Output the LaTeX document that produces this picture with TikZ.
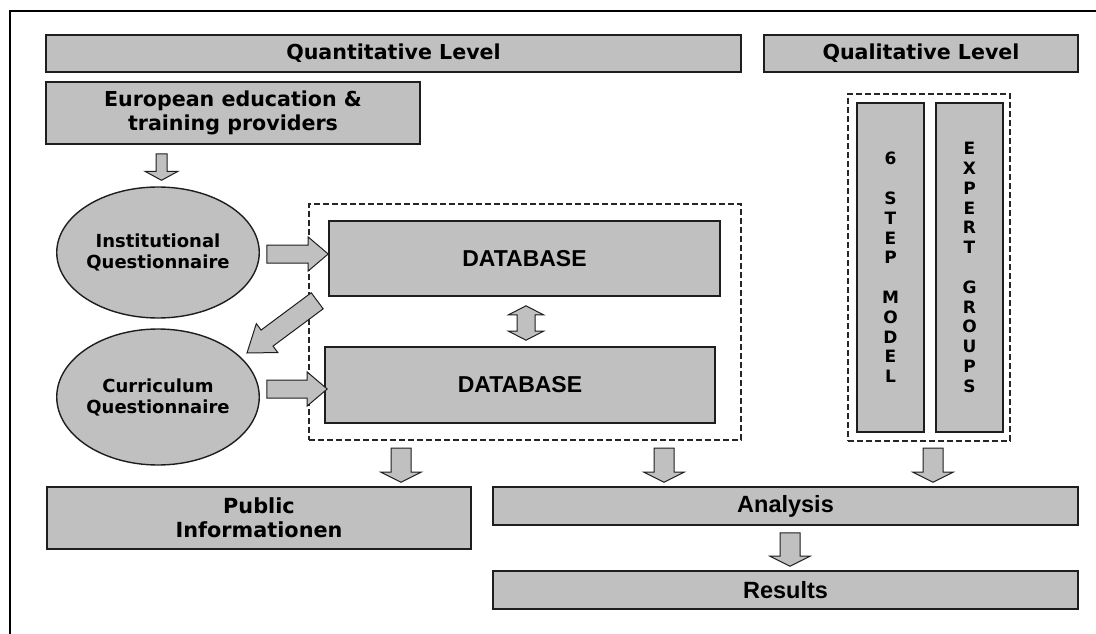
\documentclass[tikz,border=0pt]{standalone}
\usepackage{fontspec}
\setmainfont{DejaVu Sans}
\newfontfamily\arialfont{Liberation Sans}
\usetikzlibrary{calc,shapes.geometric}

\definecolor{boxgray}{HTML}{C0C0C0}
\definecolor{edgegray}{HTML}{1E1E1E}

\tikzset{
  box/.style={draw=edgegray, line width=1.6pt, fill=boxgray, inner sep=0pt,
    align=center, font=\bfseries\fontsize{20.6}{23.5}\selectfont},
  dbbox/.style={box, font=\arialfont\bfseries\fontsize{23}{27}\selectfont},
  resbox/.style={box, font=\arialfont\bfseries\fontsize{23.5}{27}\selectfont},
  oval/.style={ellipse, draw=edgegray, line width=1.4pt, fill=boxgray, inner sep=0pt,
    align=center, font=\bfseries\fontsize{18}{21}\selectfont},
  column/.style={box, font=\bfseries\fontsize{17}{19.8}\selectfont},
  group/.style={draw=black!85, line width=2pt, dash pattern=on 6pt off 3pt, inner sep=0pt},
  blockarrow/.style={draw=edgegray, line width=1pt, fill=boxgray, line join=miter},
}

% block arrow: tail, tip, half shaft width, half head width, head length
\newcommand\blockarrow[5]{%
  \coordinate (bat) at #1;
  \coordinate (bap) at #2;
  \coordinate (bah) at ($(bap)!#5!(bat)$);
  \draw[blockarrow] ($(bat)!#3!90:(bap)$) -- ($(bah)!#3!90:(bap)$)
    -- ($(bah)!#4!90:(bap)$) -- (bap) -- ($(bah)!#4!-90:(bap)$)
    -- ($(bah)!#3!-90:(bap)$) -- ($(bat)!#3!-90:(bap)$) -- cycle;
}
% block arrow with a head at both ends
\newcommand\twowayarrow[5]{%
  \coordinate (dat) at #1;
  \coordinate (dap) at #2;
  \coordinate (dah) at ($(dat)!#5!(dap)$);
  \coordinate (dak) at ($(dap)!#5!(dat)$);
  \draw[blockarrow] (dat) -- ($(dah)!#4!90:(dap)$) -- ($(dah)!#3!90:(dap)$)
    -- ($(dak)!#3!90:(dap)$) -- ($(dak)!#4!90:(dap)$) -- (dap)
    -- ($(dak)!#4!-90:(dap)$) -- ($(dak)!#3!-90:(dap)$)
    -- ($(dah)!#3!-90:(dap)$) -- ($(dah)!#4!-90:(dap)$) -- cycle;
}

\begin{document}
\begin{tikzpicture}[x=1pt, y=-1pt]
  \useasboundingbox (0,0) rectangle (1096,634);
  \clip (0,0) rectangle (1096,634);

  % outer frame (continues past the right and bottom edges)
  \draw[line width=2pt, black] (10,11) rectangle (1130,670);

  % header bars
  \node[box, minimum width=695pt, minimum height=37pt] (qnt) at (393.5,53.5) {Quantitative Level};
  \node[box, minimum width=314pt, minimum height=37pt] (qlt) at (921,53.5) {Qualitative Level};

  % quantitative branch
  \node[box, minimum width=374pt, minimum height=62pt] (eu) at (233,113)
    {European education \&\\training providers};
  \node[oval, minimum width=170pt, minimum height=131pt] (iq) at (158,252.5)
    {Institutional\\Questionnaire};
  \node[oval, minimum width=170pt, minimum height=136pt] (cq) at (158,397)
    {Curriculum\\Questionnaire};

  \node[group, minimum width=432pt, minimum height=236pt] (grp1) at (525,322) {};
  \node[dbbox, minimum width=391pt, minimum height=75pt] (db1) at (524.5,258.5) {DATABASE};
  \node[dbbox, minimum width=390pt, minimum height=76pt] (db2) at (520,385) {DATABASE};

  % qualitative branch
  \node[group, minimum width=162pt, minimum height=347pt] (grp2) at (929,267.5) {};
  \node[column, minimum width=67pt, minimum height=329pt] (step) at (890.5,267.5)
    {6\\~\\S\\T\\E\\P\\~\\M\\O\\D\\E\\L};
  \node[column, minimum width=67pt, minimum height=329pt] (expert) at (969.5,267.5)
    {E\\X\\P\\E\\R\\T\\~\\G\\R\\O\\U\\P\\S};

  % outputs
  \node[box, minimum width=424pt, minimum height=62pt, font=\bfseries\fontsize{20.8}{24}\selectfont]
    (pub) at (259,518) {Public\\Informationen};
  \node[resbox, minimum width=585pt, minimum height=38pt] (ana) at (785.5,506) {Analysis};
  \node[resbox, minimum width=585pt, minimum height=38pt] (res) at (785.5,590) {Results};

  % connectors
  \blockarrow{($(iq.north |- eu.south)+(3.5,9)$)}{($(iq.north)+(3.5,-6)$)}{5.5pt}{16.5pt}{9pt}
  \blockarrow{($(iq.east)+(7,1.5)$)}{($(db1.west |- iq.east)+(0,1.5)$)}{9pt}{17pt}{20pt}
  \blockarrow{($(cq.east)+(7,-8)$)}{($(db2.west |- cq.east)+(3,-8)$)}{9pt}{17pt}{20pt}
  \blockarrow{($(db1.south west)+(-11,4)$)}{($(cq.center)+(89,-44)$)}{10pt}{18pt}{25pt}
  \twowayarrow{($(db1.south)+(1.5,9)$)}{($(db2.north -| db1.south)+(1.5,-6)$)}{9pt}{17.5pt}{9pt}

  \coordinate (pubtail) at ($(grp1.south west)+(93,7)$);
  \coordinate (anatail) at ($(grp1.south east)+(-78,7)$);
  \coordinate (qualtail) at ($(grp2.south)+(4,6)$);
  \blockarrow{(pubtail)}{($(pubtail |- pub.north)+(0,-4)$)}{10pt}{20pt}{10pt}
  \blockarrow{(anatail)}{($(anatail |- ana.north)+(0,-4)$)}{10pt}{20pt}{10pt}
  \blockarrow{(qualtail)}{($(qualtail |- ana.north)+(0,-4)$)}{10pt}{20pt}{10pt}
  \blockarrow{($(ana.south)+(4.5,7)$)}{($(res.north)+(4.5,-4)$)}{10pt}{20pt}{10pt}
\end{tikzpicture}
\end{document}
